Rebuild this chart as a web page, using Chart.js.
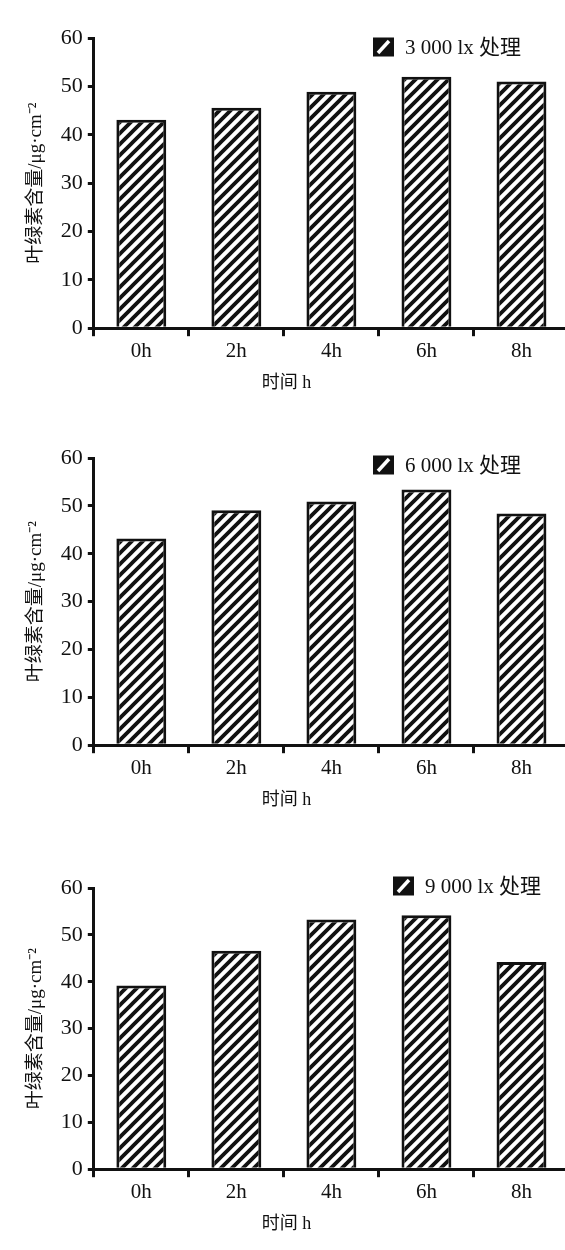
<!DOCTYPE html>
<html>
<head>
<meta charset="utf-8">
<script src="https://cdn.jsdelivr.net/npm/chart.js@4"></script>
<style>
  html, body { margin: 0; padding: 0; background: #fff; overflow: hidden; }
  body { width: 565px; height: 1250px; position: relative; }
  canvas { position: absolute; left: 0; }
</style>
</head>
<body>
<canvas id="bagan1" width="575" height="394" style="top:0px"></canvas>
<canvas id="bagan2" width="575" height="391" style="top:420px"></canvas>
<canvas id="bagan3" width="575" height="385" style="top:850px"></canvas>
<script>
// data
const kategoriWaktu = ['0h', '2h', '4h', '6h', '8h'];
const nilai3000 = [43.1, 45.6, 48.9, 52.0, 51.0];
const nilai6000 = [43.2, 49.1, 50.9, 53.4, 48.4];
const nilai9000 = [39.2, 46.6, 53.3, 54.2, 44.2];
const labelSeri = ['3 000 lx 处理', '6 000 lx 处理', '9 000 lx 处理'];
const tickSumbuY = [0, 10, 20, 30, 40, 50, 60];

const judulSumbuY = '叶绿素含量/μg·cm⁻²';
const judulSumbuX = '时间 h\u2003\u2003\u2003\u2003\u2003';

const hurufSerif = "'Liberation Serif', 'Noto Sans CJK SC', serif";
const hitam = '#111';

Chart.defaults.font.family = hurufSerif;
Chart.defaults.color = hitam;

// pola arsir miring untuk batang
function buatArsir() {
  const s = 11;
  const c = document.createElement('canvas');
  c.width = s; c.height = s;
  const g = c.getContext('2d');
  g.fillStyle = '#fff';
  g.fillRect(0, 0, s, s);
  g.strokeStyle = hitam;
  g.lineWidth = 3.8;
  g.beginPath();
  g.moveTo(0, s); g.lineTo(s, 0);
  g.moveTo(-3, 3); g.lineTo(3, -3);
  g.moveTo(s - 3, s + 3); g.lineTo(s + 3, s - 3);
  g.stroke();
  return g.createPattern(c, 'repeat');
}

// legenda kecil di pojok kanan atas area plot
const legendaArsir = {
  id: 'legendaArsir',
  afterDraw(chart, args, opt) {
    const { ctx, chartArea } = chart;
    const x = chartArea.right - opt.dx;
    const yc = chartArea.top + opt.dy;
    ctx.save();
    ctx.fillStyle = hitam;
    ctx.fillRect(x, yc - 9.5, 21, 19);
    ctx.strokeStyle = '#fff';
    ctx.lineWidth = 3.5;
    ctx.beginPath();
    ctx.moveTo(x + 5, yc + 6);
    ctx.lineTo(x + 16, yc - 6);
    ctx.stroke();
    ctx.fillStyle = hitam;
    ctx.font = '21px ' + hurufSerif;
    ctx.textBaseline = 'middle';
    ctx.fillText(chart.data.datasets[0].label, x + 32, yc + 1);
    ctx.restore();
  }
};

function gambarBagan(id, label, nilai, dx, dy) {
  new Chart(document.getElementById(id), {
    type: 'bar',
    data: {
      labels: kategoriWaktu,
      datasets: [{
        label: label,
        data: nilai,
        backgroundColor: buatArsir(),
        borderColor: hitam,
        borderWidth: 3,
        barPercentage: 0.525,
        categoryPercentage: 1
      }]
    },
    options: {
      responsive: false,
      animation: false,
      layout: { padding: { left: 20, right: 6, top: 38, bottom: 0 } },
      plugins: {
        legend: { display: false },
        tooltip: { enabled: false },
        legendaArsir: { dx: dx, dy: dy }
      },
      scales: {
        x: {
          grid: {
            offset: true,
            drawOnChartArea: false,
            color: hitam,
            lineWidth: 3,
            tickLength: 8
          },
          border: { color: hitam, width: 3 },
          ticks: { font: { size: 21 }, padding: 3, color: hitam },
          title: {
            display: true,
            text: judulSumbuX,
            font: { size: 18 },
            padding: { top: 5, bottom: 0 },
            color: hitam
          }
        },
        y: {
          min: 0,
          max: 60,
          afterBuildTicks: skala => { skala.ticks = tickSumbuY.map(v => ({ value: v })); },
          grid: {
            drawOnChartArea: false,
            color: hitam,
            lineWidth: 3,
            tickLength: 6
          },
          border: { color: hitam, width: 3 },
          ticks: { font: { size: 22 }, padding: 5, color: hitam },
          title: {
            display: true,
            text: judulSumbuY,
            font: { size: 19 },
            padding: { top: 5, bottom: 8 },
            color: hitam
          }
        }
      }
    },
    plugins: [legendaArsir]
  });
}

gambarBagan('bagan1', labelSeri[0], nilai3000, 196, 9);
gambarBagan('bagan2', labelSeri[1], nilai6000, 196, 7);
gambarBagan('bagan3', labelSeri[2], nilai9000, 176, -2);
</script>
</body>
</html>
